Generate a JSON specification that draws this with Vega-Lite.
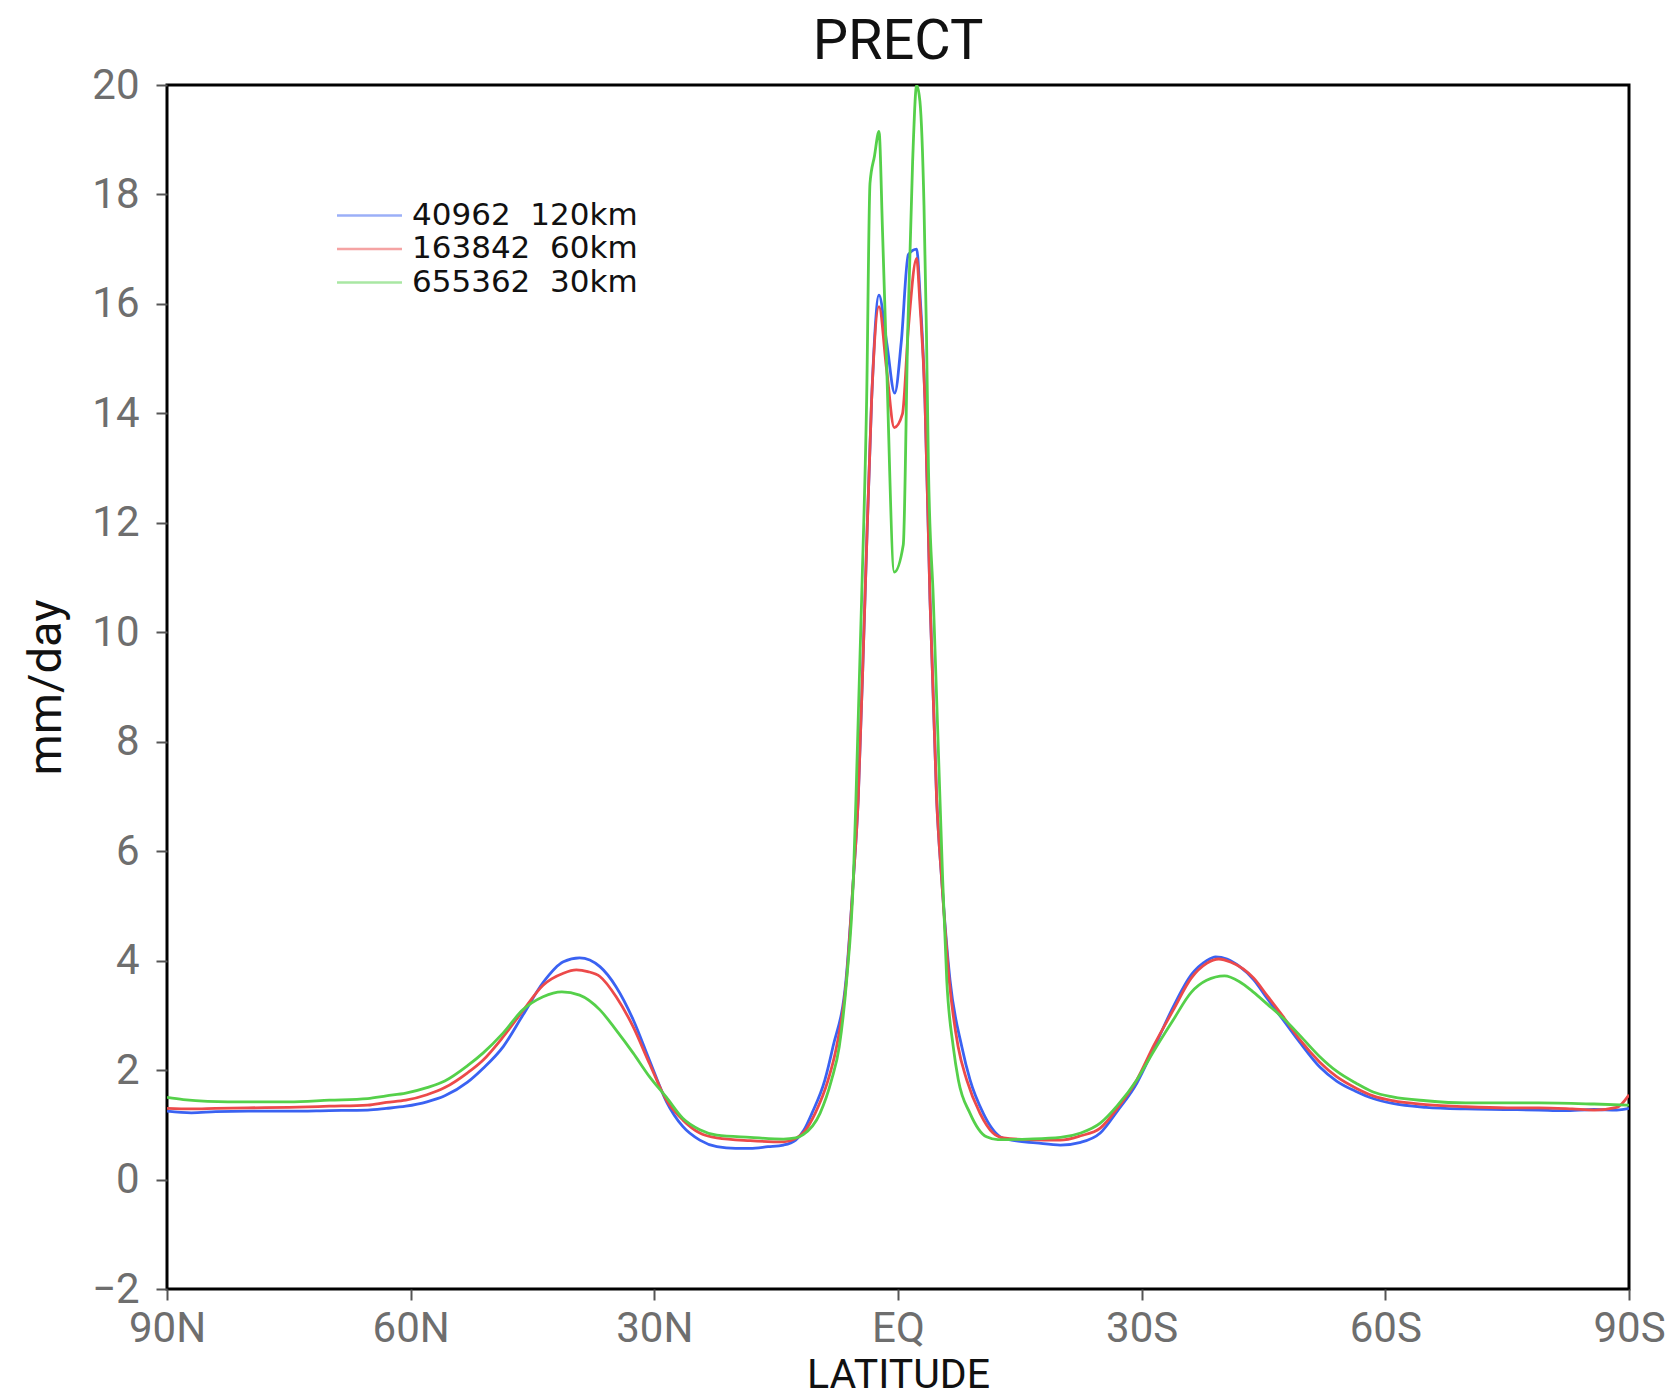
{
  "$schema": "https://vega.github.io/schema/vega-lite/v6.json",
  "width": 1462,
  "height": 1204,
  "autosize": {"type": "none"},
  "padding": {"left": 167, "top": 85, "right": 44, "bottom": 107},
  "background": "white",
  "title": {"text": "PRECT", "font": "Roboto", "fontSize": 56, "fontWeight": "normal", "color": "#111111", "anchor": "middle", "frame": "group", "offset": -7},
  "config": {"view": {"stroke": "black", "strokeWidth": 3}},
  "data": {"values": [
    {"run":"b","lat":90,"val":1.25},{"run":"b","lat":87,"val":1.22},{"run":"b","lat":84,"val":1.24},{"run":"b","lat":80,"val":1.25},{"run":"b","lat":75,"val":1.25},{"run":"b","lat":70,"val":1.26},{"run":"b","lat":65.3,"val":1.27},{"run":"b","lat":63,"val":1.30},{"run":"b","lat":60.6,"val":1.34},{"run":"b","lat":58,"val":1.42},{"run":"b","lat":55.8,"val":1.53},{"run":"b","lat":53,"val":1.78},{"run":"b","lat":51.1,"val":2.03},{"run":"b","lat":48.6,"val":2.43},{"run":"b","lat":46.2,"val":3.0},{"run":"b","lat":43.7,"val":3.6},{"run":"b","lat":41.2,"val":3.98},{"run":"b","lat":39.2,"val":4.05},{"run":"b","lat":36.7,"val":3.89},{"run":"b","lat":34.7,"val":3.52},{"run":"b","lat":32.6,"val":2.92},{"run":"b","lat":30.6,"val":2.18},{"run":"b","lat":28.5,"val":1.42},{"run":"b","lat":26.5,"val":0.97},{"run":"b","lat":24.4,"val":0.72},{"run":"b","lat":22.3,"val":0.60},{"run":"b","lat":20,"val":0.57},{"run":"b","lat":18.2,"val":0.57},{"run":"b","lat":16,"val":0.60},{"run":"b","lat":14.1,"val":0.63},{"run":"b","lat":12.6,"val":0.72},{"run":"b","lat":11.6,"val":0.90},{"run":"b","lat":10.6,"val":1.21},{"run":"b","lat":9.0,"val":1.82},{"run":"b","lat":8.0,"val":2.43},{"run":"b","lat":6.4,"val":3.65},{"run":"b","lat":5.5,"val":5.48},{"run":"b","lat":4.9,"val":6.94},{"run":"b","lat":4.07,"val":10.6},{"run":"b","lat":3.25,"val":14.25},{"run":"b","lat":2.34,"val":16.16},{"run":"b","lat":1.4,"val":15.3},{"run":"b","lat":0.4,"val":14.37},{"run":"b","lat":-0.4,"val":15.3},{"run":"b","lat":-1.27,"val":16.9},{"run":"b","lat":-2.3,"val":17.0},{"run":"b","lat":-2.7,"val":16.2},{"run":"b","lat":-3.32,"val":14.25},{"run":"b","lat":-3.94,"val":10.6},{"run":"b","lat":-4.76,"val":6.94},{"run":"b","lat":-5.38,"val":5.48},{"run":"b","lat":-6.4,"val":3.65},{"run":"b","lat":-7.85,"val":2.43},{"run":"b","lat":-8.87,"val":1.82},{"run":"b","lat":-10.5,"val":1.21},{"run":"b","lat":-11.5,"val":0.95},{"run":"b","lat":-12.6,"val":0.78},{"run":"b","lat":-14,"val":0.72},{"run":"b","lat":-17,"val":0.67},{"run":"b","lat":-20,"val":0.63},{"run":"b","lat":-22.5,"val":0.68},{"run":"b","lat":-24.9,"val":0.85},{"run":"b","lat":-27,"val":1.25},{"run":"b","lat":-29.4,"val":1.76},{"run":"b","lat":-31.5,"val":2.4},{"run":"b","lat":-33.9,"val":3.16},{"run":"b","lat":-36.1,"val":3.74},{"run":"b","lat":-38,"val":4.0},{"run":"b","lat":-39.1,"val":4.07},{"run":"b","lat":-40.5,"val":4.03},{"run":"b","lat":-42,"val":3.9},{"run":"b","lat":-43.8,"val":3.65},{"run":"b","lat":-45.5,"val":3.3},{"run":"b","lat":-47.4,"val":2.92},{"run":"b","lat":-49.5,"val":2.5},{"run":"b","lat":-51.9,"val":2.06},{"run":"b","lat":-54,"val":1.8},{"run":"b","lat":-56.4,"val":1.61},{"run":"b","lat":-58.5,"val":1.48},{"run":"b","lat":-60.9,"val":1.39},{"run":"b","lat":-65,"val":1.32},{"run":"b","lat":-69.9,"val":1.29},{"run":"b","lat":-75,"val":1.28},{"run":"b","lat":-78.9,"val":1.27},{"run":"b","lat":-82,"val":1.26},{"run":"b","lat":-85.7,"val":1.28},{"run":"b","lat":-88.5,"val":1.27},{"run":"b","lat":-90,"val":1.30},
    {"run":"r","lat":90,"val":1.30},{"run":"r","lat":87,"val":1.29},{"run":"r","lat":84,"val":1.30},{"run":"r","lat":80,"val":1.31},{"run":"r","lat":75,"val":1.32},{"run":"r","lat":70,"val":1.34},{"run":"r","lat":65.3,"val":1.36},{"run":"r","lat":63,"val":1.41},{"run":"r","lat":60.6,"val":1.45},{"run":"r","lat":58,"val":1.55},{"run":"r","lat":55.8,"val":1.68},{"run":"r","lat":53,"val":1.95},{"run":"r","lat":51.1,"val":2.18},{"run":"r","lat":48.6,"val":2.61},{"run":"r","lat":46.2,"val":3.08},{"run":"r","lat":43.7,"val":3.55},{"run":"r","lat":41.2,"val":3.77},{"run":"r","lat":39.6,"val":3.83},{"run":"r","lat":38.2,"val":3.8},{"run":"r","lat":36.7,"val":3.71},{"run":"r","lat":34.7,"val":3.34},{"run":"r","lat":32.6,"val":2.79},{"run":"r","lat":30.6,"val":2.12},{"run":"r","lat":28.5,"val":1.45},{"run":"r","lat":26.5,"val":1.09},{"run":"r","lat":24.4,"val":0.85},{"run":"r","lat":22.3,"val":0.76},{"run":"r","lat":18.2,"val":0.71},{"run":"r","lat":14.1,"val":0.69},{"run":"r","lat":12.6,"val":0.75},{"run":"r","lat":11.5,"val":0.88},{"run":"r","lat":10.2,"val":1.21},{"run":"r","lat":8.6,"val":1.82},{"run":"r","lat":7.56,"val":2.43},{"run":"r","lat":6.35,"val":3.65},{"run":"r","lat":5.5,"val":5.48},{"run":"r","lat":4.9,"val":6.94},{"run":"r","lat":4.07,"val":10.6},{"run":"r","lat":3.25,"val":14.25},{"run":"r","lat":2.34,"val":15.95},{"run":"r","lat":1.4,"val":14.8},{"run":"r","lat":0.46,"val":13.74},{"run":"r","lat":-0.55,"val":13.99},{"run":"r","lat":-1.3,"val":15.6},{"run":"r","lat":-2.3,"val":16.83},{"run":"r","lat":-2.7,"val":16.0},{"run":"r","lat":-3.32,"val":14.25},{"run":"r","lat":-3.94,"val":10.6},{"run":"r","lat":-4.76,"val":6.94},{"run":"r","lat":-5.38,"val":5.48},{"run":"r","lat":-6.3,"val":3.65},{"run":"r","lat":-7.4,"val":2.43},{"run":"r","lat":-8.46,"val":1.82},{"run":"r","lat":-10.1,"val":1.21},{"run":"r","lat":-11.7,"val":0.85},{"run":"r","lat":-13,"val":0.76},{"run":"r","lat":-16,"val":0.73},{"run":"r","lat":-20,"val":0.72},{"run":"r","lat":-22.5,"val":0.8},{"run":"r","lat":-24.9,"val":0.94},{"run":"r","lat":-27,"val":1.3},{"run":"r","lat":-29.4,"val":1.82},{"run":"r","lat":-31.5,"val":2.45},{"run":"r","lat":-33.9,"val":3.10},{"run":"r","lat":-36.1,"val":3.68},{"run":"r","lat":-38,"val":3.95},{"run":"r","lat":-39.5,"val":4.03},{"run":"r","lat":-41,"val":3.97},{"run":"r","lat":-42.5,"val":3.85},{"run":"r","lat":-43.8,"val":3.68},{"run":"r","lat":-45.5,"val":3.35},{"run":"r","lat":-47.4,"val":2.98},{"run":"r","lat":-49.5,"val":2.55},{"run":"r","lat":-51.9,"val":2.15},{"run":"r","lat":-54,"val":1.88},{"run":"r","lat":-56.4,"val":1.67},{"run":"r","lat":-58.5,"val":1.53},{"run":"r","lat":-60.9,"val":1.44},{"run":"r","lat":-65,"val":1.37},{"run":"r","lat":-69.9,"val":1.33},{"run":"r","lat":-75,"val":1.31},{"run":"r","lat":-78.9,"val":1.31},{"run":"r","lat":-83,"val":1.29},{"run":"r","lat":-85.7,"val":1.27},{"run":"r","lat":-88.5,"val":1.32},{"run":"r","lat":-90,"val":1.55},
    {"run":"g","lat":90,"val":1.50},{"run":"g","lat":88,"val":1.46},{"run":"g","lat":85,"val":1.43},{"run":"g","lat":80,"val":1.42},{"run":"g","lat":75,"val":1.42},{"run":"g","lat":70,"val":1.45},{"run":"g","lat":65.3,"val":1.48},{"run":"g","lat":63,"val":1.53},{"run":"g","lat":60.6,"val":1.58},{"run":"g","lat":58,"val":1.68},{"run":"g","lat":55.8,"val":1.80},{"run":"g","lat":53,"val":2.08},{"run":"g","lat":51.1,"val":2.31},{"run":"g","lat":48.6,"val":2.68},{"run":"g","lat":46.2,"val":3.1},{"run":"g","lat":43.7,"val":3.34},{"run":"g","lat":41.4,"val":3.43},{"run":"g","lat":39.2,"val":3.37},{"run":"g","lat":36.7,"val":3.10},{"run":"g","lat":34.7,"val":2.73},{"run":"g","lat":32.6,"val":2.31},{"run":"g","lat":30.6,"val":1.88},{"run":"g","lat":28.5,"val":1.50},{"run":"g","lat":26.5,"val":1.12},{"run":"g","lat":24.4,"val":0.91},{"run":"g","lat":22.3,"val":0.81},{"run":"g","lat":18.2,"val":0.77},{"run":"g","lat":14.1,"val":0.74},{"run":"g","lat":12.6,"val":0.76},{"run":"g","lat":11.67,"val":0.82},{"run":"g","lat":9.6,"val":1.21},{"run":"g","lat":8.18,"val":1.82},{"run":"g","lat":7.23,"val":2.43},{"run":"g","lat":6.32,"val":3.65},{"run":"g","lat":5.5,"val":5.48},{"run":"g","lat":5.18,"val":6.94},{"run":"g","lat":4.48,"val":10.6},{"run":"g","lat":3.86,"val":14.25},{"run":"g","lat":3.45,"val":18.2},{"run":"g","lat":2.9,"val":18.7},{"run":"g","lat":2.34,"val":19.15},{"run":"g","lat":1.9,"val":17.3},{"run":"g","lat":1.4,"val":14.9},{"run":"g","lat":0.46,"val":11.1},{"run":"g","lat":-0.65,"val":11.6},{"run":"g","lat":-1.2,"val":15.5},{"run":"g","lat":-1.8,"val":18.6},{"run":"g","lat":-2.3,"val":20.0},{"run":"g","lat":-2.7,"val":19.7},{"run":"g","lat":-3.2,"val":17.8},{"run":"g","lat":-3.5,"val":15.5},{"run":"g","lat":-3.75,"val":13.0},{"run":"g","lat":-4.35,"val":10.6},{"run":"g","lat":-5.17,"val":6.94},{"run":"g","lat":-5.5,"val":5.48},{"run":"g","lat":-6.0,"val":3.65},{"run":"g","lat":-6.8,"val":2.43},{"run":"g","lat":-7.43,"val":1.82},{"run":"g","lat":-8.87,"val":1.21},{"run":"g","lat":-10.9,"val":0.78},{"run":"g","lat":-12.3,"val":0.73},{"run":"g","lat":-16,"val":0.74},{"run":"g","lat":-20,"val":0.77},{"run":"g","lat":-22.5,"val":0.85},{"run":"g","lat":-24.9,"val":1.03},{"run":"g","lat":-27,"val":1.35},{"run":"g","lat":-29.4,"val":1.82},{"run":"g","lat":-31.5,"val":2.35},{"run":"g","lat":-33.9,"val":2.92},{"run":"g","lat":-36.1,"val":3.42},{"run":"g","lat":-38,"val":3.64},{"run":"g","lat":-40.2,"val":3.72},{"run":"g","lat":-42,"val":3.62},{"run":"g","lat":-43.8,"val":3.42},{"run":"g","lat":-45.5,"val":3.2},{"run":"g","lat":-47.4,"val":2.95},{"run":"g","lat":-49.5,"val":2.63},{"run":"g","lat":-51.9,"val":2.25},{"run":"g","lat":-54,"val":1.98},{"run":"g","lat":-56.4,"val":1.76},{"run":"g","lat":-58.5,"val":1.6},{"run":"g","lat":-60.9,"val":1.51},{"run":"g","lat":-65,"val":1.44},{"run":"g","lat":-69.9,"val":1.40},{"run":"g","lat":-75,"val":1.40},{"run":"g","lat":-78.9,"val":1.40},{"run":"g","lat":-85.7,"val":1.38},{"run":"g","lat":-90,"val":1.36}
  ]},
  "mark": {"type": "line", "interpolate": "monotone", "strokeWidth": 2.8, "clip": true},
  "encoding": {
    "x": {
      "field": "lat", "type": "quantitative",
      "scale": {"domain": [-90, 90], "reverse": true, "nice": false, "zero": false},
      "axis": {
        "values": [90, 60, 30, 0, -30, -60, -90],
        "labelExpr": "datum.value == 0 ? 'EQ' : (datum.value > 0 ? datum.value + 'N' : (-datum.value) + 'S')",
        "labelFont": "Roboto", "labelFontSize": 42, "labelColor": "#6e6e6e", "labelPadding": 8,
        "labelFlush": false, "labelOverlap": false,
        "tickSize": 11, "tickColor": "#555555", "tickWidth": 2,
        "domain": false, "grid": false,
        "title": "LATITUDE", "titleFont": "Roboto", "titleFontSize": 41, "titleFontWeight": "normal", "titleColor": "#111111",
        "titleX": 731, "titleY": 98, "titleBaseline": "alphabetic", "titleAlign": "center"
      }
    },
    "y": {
      "field": "val", "type": "quantitative",
      "scale": {"domain": [-2, 20], "nice": false, "zero": false},
      "axis": {
        "values": [-2, 0, 2, 4, 6, 8, 10, 12, 14, 16, 18, 20],
        "labelFont": "Roboto", "labelFontSize": 42, "labelColor": "#6e6e6e", "labelPadding": 17,
        "labelFlush": false, "labelOverlap": false,
        "tickSize": 11, "tickColor": "#555555", "tickWidth": 2,
        "domain": false, "grid": false,
        "title": "mm/day", "titleFont": "Roboto", "titleFontSize": 47, "titleFontWeight": "normal", "titleColor": "#111111",
        "titleX": -107, "titleY": 602, "titleAngle": 270, "titleBaseline": "alphabetic", "titleAlign": "center"
      }
    },
    "color": {
      "field": "run", "type": "nominal",
      "scale": {"domain": ["b", "r", "g"], "range": ["#3a62f2", "#ec4a4a", "#55d04a"]},
      "legend": {
        "orient": "none", "legendX": 187, "legendY": 115, "title": null, "padding": 0,
        "labelExpr": "datum.value == 'b' ? '40962\u00a0\u00a0120km' : (datum.value == 'r' ? '163842\u00a0\u00a060km' : '655362\u00a0\u00a030km')",
        "labelLimit": 0,
        "symbolType": "M-4,0L4,0", "symbolSize": 264, "symbolStrokeWidth": 2.5, "symbolOpacity": 0.5,
        "labelFont": "DejaVu Sans", "labelFontSize": 31, "labelColor": "#111111", "labelOffset": 27,
        "rowPadding": 1.5
      }
    }
  }
}
